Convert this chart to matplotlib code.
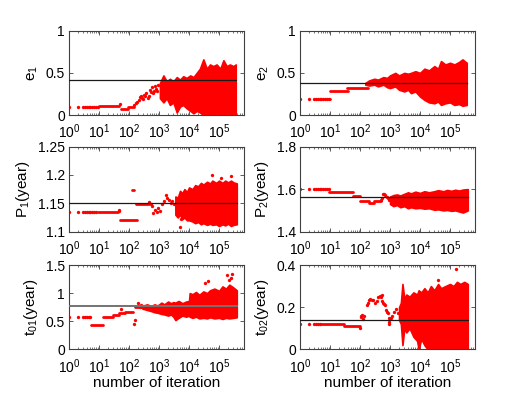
import matplotlib
matplotlib.use("Agg")
import matplotlib.pyplot as plt
from matplotlib.ticker import LogLocator, FixedLocator, FormatStrFormatter, NullFormatter

plt.rcParams['font.family'] = ['Liberation Sans', 'DejaVu Sans']
plt.rcParams['mathtext.default'] = 'regular'

X_MAX = 6.8e5

# ---------------- e1 ----------------
e1_ref = 0.41
e1_dot_x = [1, 2, 3, 3.5, 4, 4.5, 5, 6, 7, 8, 9, 50, 150, 170, 190, 210, 230, 250, 270, 300,
            320, 350, 380, 420, 460, 500, 540, 580, 620, 680, 740, 800, 870, 950]
e1_dot_y = [0.10, 0.10, 0.10, 0.10, 0.10, 0.10, 0.10, 0.10, 0.10, 0.10, 0.10, 0.13, 0.12, 0.14,
            0.16, 0.18, 0.21, 0.22, 0.20, 0.19, 0.24, 0.22, 0.26, 0.20, 0.23, 0.30, 0.27, 0.33,
            0.26, 0.29, 0.35, 0.31, 0.28, 0.36]
e1_run_x0 = [10, 55, 90]
e1_run_x1 = [45, 90, 150]
e1_run_y = [0.11, 0.075, 0.09]
e1_band_x = [1070, 1400, 1800, 2300, 3000, 3900, 5000, 6400, 8300, 1.1e4, 1.4e4, 1.8e4, 2.3e4,
             3.0e4, 3.9e4, 5e4, 6.4e4, 8.3e4, 1.1e5, 1.4e5, 1.8e5, 2.3e5, 3e5, 3.6e5]
e1_band_hi = [0.38, 0.47, 0.40, 0.43, 0.40, 0.45, 0.42, 0.46, 0.44, 0.47, 0.45, 0.50, 0.55,
              0.66, 0.55, 0.60, 0.58, 0.60, 0.55, 0.65, 0.58, 0.60, 0.58, 0.60]
e1_band_lo = [0.20, 0.15, 0.20, 0.12, 0.15, 0.03, 0.10, 0.12, 0.08, 0.05, 0.02, 0.05, 0.03,
              0.0, 0.02, 0.0, 0.0, 0.02, 0.0, 0.0, 0.02, 0.0, 0.0, 0.0]

# ---------------- e2 ----------------
e2_ref = 0.375
e2_dot_x = [1, 2, 3, 3.5, 4, 4.5, 5, 6, 7, 8, 9]
e2_dot_y = [0.185] * 11
e2_run_x0 = [9, 10, 36]
e2_run_x1 = [10, 41, 190]
e2_run_y = [0.185, 0.28, 0.315]
e2_band_x = [150, 200, 300, 400, 600, 800, 1000, 1500, 2000, 3000, 4000, 5000, 7000, 1e4,
             1.4e4, 2e4, 3e4, 4e4, 5e4, 7e4, 1e5, 1.4e5, 2e5, 2.6e5, 3.6e5]
e2_band_hi = [0.38, 0.41, 0.43, 0.42, 0.45, 0.44, 0.47, 0.50, 0.47, 0.50, 0.49, 0.50, 0.52,
              0.50, 0.55, 0.53, 0.58, 0.55, 0.64, 0.60, 0.62, 0.60, 0.63, 0.66, 0.62]
e2_band_lo = [0.36, 0.35, 0.36, 0.34, 0.36, 0.33, 0.32, 0.34, 0.30, 0.28, 0.30, 0.26, 0.28,
              0.22, 0.18, 0.15, 0.14, 0.16, 0.12, 0.14, 0.15, 0.12, 0.13, 0.11, 0.12]

# ---------------- P1 ----------------
P1_ref = 1.151
P1_dot_x = [1, 2, 3, 3.5, 4, 4.5, 5, 6, 7, 8, 45, 48, 480, 520, 600, 650, 750, 850, 950,
            1100, 1300, 1500, 1700, 1900, 2200, 2500, 2800, 3100, 4900, 5600, 6e4, 2.5e5,
            1.2e5]
P1_dot_y = [1.135, 1.135, 1.135, 1.135, 1.135, 1.135, 1.135, 1.135, 1.135, 1.135, 1.137, 1.139,
            1.152, 1.148, 1.145, 1.133, 1.139, 1.134, 1.142, 1.136, 1.148, 1.154, 1.164, 1.160,
            1.156, 1.150, 1.154, 1.148, 1.108, 1.122, 1.200, 1.198, 1.195]
P1_run_x0 = [9, 50, 165, 130]
P1_run_x1 = [42, 180, 450, 142]
P1_run_y = [1.135, 1.121, 1.148, 1.173]
P1_band_x = [3500, 4200, 5000, 6000, 7000, 8500, 1e4, 1.3e4, 1.6e4, 2e4, 2.5e4, 3e4, 4e4,
             5e4, 6e4, 8e4, 1e5, 1.3e5, 1.6e5, 2e5, 2.5e5, 3e5, 3.9e5]
P1_band_hi = [1.162, 1.160, 1.172, 1.168, 1.175, 1.170, 1.178, 1.175, 1.182, 1.180, 1.186,
              1.183, 1.188, 1.185, 1.190, 1.186, 1.190, 1.186, 1.190, 1.187, 1.190, 1.187,
              1.185]
P1_band_lo = [1.130, 1.125, 1.130, 1.122, 1.125, 1.120, 1.120, 1.118, 1.115, 1.117, 1.113,
              1.115, 1.112, 1.114, 1.112, 1.113, 1.110, 1.113, 1.111, 1.114, 1.110, 1.112,
              1.113]

# ---------------- P2 ----------------
P2_ref = 1.562
P2_dot_x = [1, 2, 3, 3.5, 4, 4.5, 5, 6, 7, 8, 9, 520, 560, 600, 650, 700, 780, 850, 920]
P2_dot_y = [1.601] * 11 + [1.55, 1.56, 1.575, 1.578, 1.572, 1.565, 1.56, 1.55]
P2_run_x0 = [9.5, 60, 100, 200, 300]
P2_run_x1 = [60, 100, 200, 300, 500]
P2_run_y = [1.585, 1.57, 1.546, 1.537, 1.545]
P2_band_x = [1000, 1300, 1700, 2200, 3000, 4000, 5000, 7000, 1e4, 1.4e4, 2e4, 3e4, 4e4, 6e4,
             8e4, 1.1e5, 1.5e5, 2e5, 2.7e5, 3.9e5]
P2_band_hi = [1.565, 1.572, 1.575, 1.570, 1.578, 1.585, 1.580, 1.588, 1.582, 1.590, 1.585,
              1.590, 1.595, 1.590, 1.596, 1.592, 1.597, 1.593, 1.598, 1.600]
P2_band_lo = [1.530, 1.520, 1.525, 1.515, 1.520, 1.510, 1.515, 1.510, 1.512, 1.508, 1.510,
              1.503, 1.505, 1.500, 1.502, 1.498, 1.500, 1.495, 1.490, 1.500]

# ---------------- t01 ----------------
t01_ref = 0.77
t01_dot_x = [1, 2, 3, 3.5, 4, 4.5, 5, 54, 150, 155, 200, 230, 260, 290,
             4.4e4, 3.5e4, 1.8e5, 2.8e5, 2.1e5, 2.5e5]
t01_dot_y = [0.57, 0.57, 0.57, 0.57, 0.57, 0.57, 0.57, 0.72, 0.45, 0.53, 0.82, 0.76, 0.78, 0.74,
             1.22, 1.18, 1.32, 1.34, 1.24, 1.26]
t01_run_x0 = [5.5, 14, 30, 45, 75, 160]
t01_run_x1 = [14, 30, 45, 75, 140, 300]
t01_run_y = [0.43, 0.58, 0.61, 0.64, 0.66, 0.75]
t01_band_x = [300, 400, 550, 700, 900, 1200, 1500, 2000, 2500, 3000, 3500, 4500, 6000, 8000,
              1e4, 1.05e4, 1.3e4, 1.7e4, 2.2e4, 3e4, 4e4, 5e4, 7e4, 1e5, 1.3e5, 1.7e5, 2.2e5,
              3e5, 3.9e5]
t01_band_hi = [0.78, 0.80, 0.77, 0.80, 0.78, 0.83, 0.80, 0.85, 0.82, 0.84, 0.83, 0.86, 0.82,
               0.85, 0.86, 1.00, 0.98, 1.02, 0.97, 1.03, 1.00, 1.05, 1.08, 1.04, 1.12, 1.08,
               1.15, 1.10, 1.05]
t01_band_lo = [0.72, 0.70, 0.68, 0.66, 0.65, 0.63, 0.62, 0.60, 0.62, 0.58, 0.52, 0.56, 0.60,
               0.58, 0.60, 0.58, 0.56, 0.58, 0.55, 0.56, 0.55, 0.57, 0.55, 0.56, 0.54, 0.56,
               0.55, 0.56, 0.57]

# ---------------- t02 ----------------
t02_ref = 0.138
t02_dot_x = [1, 2, 3, 3.5, 4, 4.5, 100, 105, 110, 120, 130, 140, 170, 185, 200, 220, 250,
             280, 320, 360, 400, 450, 500, 530, 560, 600, 650, 700, 750, 800, 850, 900, 950,
             960, 1000, 1100, 1200, 1400, 1600, 1800, 1.6e5, 4e4]
t02_dot_y = [0.118, 0.118, 0.118, 0.118, 0.118, 0.118, 0.10, 0.152, 0.16, 0.163, 0.145, 0.16,
             0.21, 0.22, 0.235, 0.24, 0.235, 0.235, 0.22, 0.23, 0.25, 0.255, 0.25, 0.26, 0.23,
             0.22, 0.215, 0.21, 0.185, 0.175, 0.17, 0.15, 0.118, 0.13, 0.145, 0.15, 0.16, 0.175,
             0.19, 0.17, 0.38, 0.33]
t02_run_x0 = [5, 30]
t02_run_x1 = [30, 100]
t02_run_y = [0.118, 0.11]
t02_band_x = [2000, 2300, 2600, 3000, 3500, 4500, 6000, 8000, 9000, 1.1e4, 1.4e4, 1.8e4,
              2.3e4, 3e4, 4e4, 5e4, 7e4, 1e5, 1.3e5, 1.7e5, 2.2e5, 3e5, 3.9e5]
t02_band_hi = [0.20, 0.22, 0.31, 0.24, 0.26, 0.25, 0.27, 0.26, 0.28, 0.27, 0.29, 0.27, 0.30,
               0.28, 0.31, 0.29, 0.30, 0.31, 0.30, 0.32, 0.31, 0.32, 0.31]
t02_band_lo = [0.14, 0.12, 0.02, 0.10, 0.08, 0.10, 0.06, 0.04, 0.0, 0.05, 0.02, 0.0, 0.0,
               0.0, 0.0, 0.0, 0.0, 0.0, 0.0, 0.0, 0.0, 0.0, 0.0]

panels = [
    dict(label=r'e$_1$', ylim=(0, 1), yt=[0, 0.5, 1], ref=e1_ref, dx=e1_dot_x, dy=e1_dot_y,
         r0=e1_run_x0, r1=e1_run_x1, ry=e1_run_y, bx=e1_band_x, bh=e1_band_hi, bl=e1_band_lo,
         pos=[0.1317, 0.708, 0.334, 0.214]),
    dict(label=r'e$_2$', ylim=(0, 1), yt=[0, 0.5, 1], ref=e2_ref, dx=e2_dot_x, dy=e2_dot_y,
         r0=e2_run_x0, r1=e2_run_x1, ry=e2_run_y, bx=e2_band_x, bh=e2_band_hi, bl=e2_band_lo,
         pos=[0.5725, 0.708, 0.334, 0.214]),
    dict(label=r'P$_1$(year)', ylim=(1.1, 1.25), yt=[1.1, 1.15, 1.2, 1.25], ref=P1_ref,
         dx=P1_dot_x, dy=P1_dot_y, r0=P1_run_x0, r1=P1_run_x1, ry=P1_run_y,
         bx=P1_band_x, bh=P1_band_hi, bl=P1_band_lo, pos=[0.1317, 0.412, 0.334, 0.216]),
    dict(label=r'P$_2$(year)', ylim=(1.4, 1.8), yt=[1.4, 1.6, 1.8], ref=P2_ref,
         dx=P2_dot_x, dy=P2_dot_y, r0=P2_run_x0, r1=P2_run_x1, ry=P2_run_y,
         bx=P2_band_x, bh=P2_band_hi, bl=P2_band_lo, pos=[0.5725, 0.412, 0.334, 0.216]),
    dict(label=r't$_{01}$(year)', ylim=(0, 1.5), yt=[0, 0.5, 1, 1.5], ref=t01_ref,
         dx=t01_dot_x, dy=t01_dot_y, r0=t01_run_x0, r1=t01_run_x1, ry=t01_run_y,
         bx=t01_band_x, bh=t01_band_hi, bl=t01_band_lo, pos=[0.1317, 0.1134, 0.334, 0.214],
         xlabel=True, refc='0.45', reflw=1.4),
    dict(label=r't$_{02}$(year)', ylim=(0, 0.4), yt=[0, 0.2, 0.4], ref=t02_ref,
         dx=t02_dot_x, dy=t02_dot_y, r0=t02_run_x0, r1=t02_run_x1, ry=t02_run_y,
         bx=t02_band_x, bh=t02_band_hi, bl=t02_band_lo, pos=[0.5725, 0.1134, 0.334, 0.214],
         xlabel=True),
]

fig = plt.figure(figsize=(5.24, 3.94), dpi=100)
RED = '#ff0000'
for p in panels:
    ax = fig.add_axes(p['pos'])
    ax.set_xscale('log')
    # dense band of samples
    ax.fill_between(p['bx'], p['bl'], p['bh'], color=RED, lw=1.2, edgecolor=RED, zorder=2)
    # horizontal runs of consecutive iterations
    for a, b, y in zip(p['r0'], p['r1'], p['ry']):
        ax.plot([a, b], [y, y], color=RED, lw=2.0, solid_capstyle='round', zorder=2)
    # individual samples
    ax.plot(p['dx'], p['dy'], 'o', color=RED, ms=2.4, mew=0, zorder=2)
    # reference value
    ax.plot([1, p['bx'][-1]], [p['ref'], p['ref']], color=p.get('refc', '0.1'),
            lw=p.get('reflw', 0.9), zorder=3)
    ax.set_xlim(1, X_MAX)
    ax.set_ylim(*p['ylim'])
    ax.xaxis.set_major_locator(LogLocator(base=10, numticks=10))
    ax.xaxis.set_minor_locator(LogLocator(base=10, subs=range(2, 10), numticks=20))
    ax.xaxis.set_minor_formatter(NullFormatter())
    ax.yaxis.set_major_locator(FixedLocator(p['yt']))
    ax.yaxis.set_major_formatter(FormatStrFormatter('%g'))
    ax.tick_params(which='both', direction='in', top=True, right=True, labelsize=10,
                   color='0.25')
    ax.tick_params(axis='x', pad=5.5)
    ax.tick_params(axis='y', pad=3)
    ax.tick_params(which='major', length=3, width=0.6)
    ax.tick_params(which='minor', length=1.5, width=0.5)
    for s in ax.spines.values():
        s.set_color('0.25')
        s.set_linewidth(0.8)
    ax.set_ylabel(p['label'], fontsize=11, labelpad=4)
    if p.get('xlabel'):
        ax.set_xlabel('number of iteration', fontsize=11, labelpad=0)

fig.savefig('out.png', dpi=100)
